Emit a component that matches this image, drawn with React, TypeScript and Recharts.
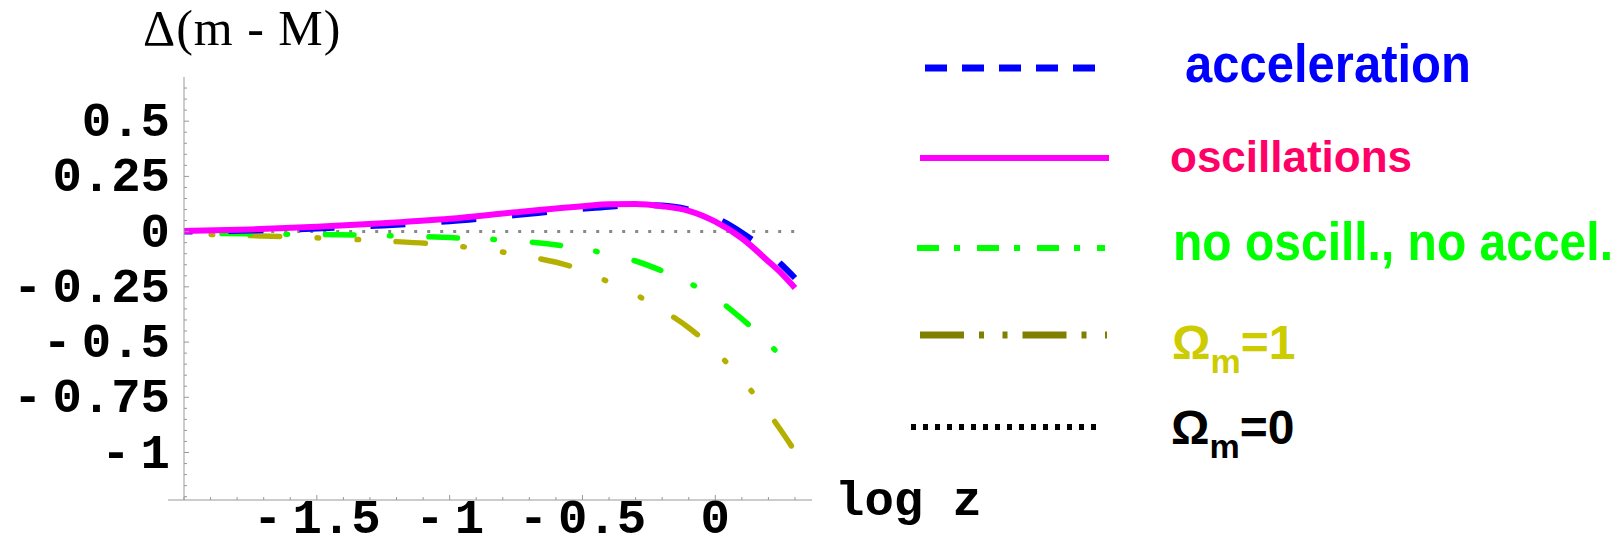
import { LineChart, Line, XAxis, YAxis } from 'recharts';

// log z sample points
const logZ = [-2, -1.75, -1.5, -1.25, -1, -0.75, -0.5, -0.4, -0.3, -0.2, -0.1, 0, 0.1, 0.2, 0.25, 0.3];

// Δ(m - M) for each model
const acceleration = [0, 0.005, 0.014, 0.028, 0.047, 0.075, 0.103, 0.113, 0.12, 0.118, 0.1, 0.063, -0.005, -0.095, -0.15, -0.21];
const oscillations = [0.003, 0.01, 0.022, 0.038, 0.058, 0.088, 0.115, 0.124, 0.125, 0.115, 0.094, 0.045, -0.03, -0.135, -0.19, -0.255];
const noOscNoAcc = [-0.008, -0.01, -0.013, -0.018, -0.027, -0.042, -0.078, -0.102, -0.133, -0.178, -0.232, -0.3, -0.395, -0.505, -0.57, null];
const omegaOne = [-0.01, -0.018, -0.028, -0.042, -0.062, -0.103, -0.175, -0.229, -0.285, -0.355, -0.435, -0.54, -0.67, -0.82, -0.905, -0.995];
const omegaZero = [0, 0, 0, 0, 0, 0, 0, 0, 0, 0, 0, 0, 0, 0, 0, 0];

// ticks
const xTickLabels = [-1.5, -1, -0.5, 0];
const xTicks = [-2, -1.9, -1.8, -1.7, -1.6, -1.5, -1.4, -1.3, -1.2, -1.1, -1, -0.9, -0.8, -0.7, -0.6, -0.5, -0.4, -0.3, -0.2, -0.1, 0, 0.1, 0.2, 0.3];
const yTickLabels = [0.5, 0.25, 0, -0.25, -0.5, -0.75, -1];
const yTicks = [0.65, 0.6, 0.55, 0.5, 0.45, 0.4, 0.35, 0.3, 0.25, 0.2, 0.15, 0.1, 0.05, 0, -0.05, -0.1, -0.15, -0.2, -0.25, -0.3, -0.35, -0.4, -0.45, -0.5, -0.55, -0.6, -0.65, -0.7, -0.75, -0.8, -0.85, -0.9, -0.95, -1, -1.05, -1.1, -1.15, -1.2];

const data = logZ.map((x, i) => ({
  x,
  acc: acceleration[i],
  osc: oscillations[i],
  none: noOscNoAcc[i],
  om1: omegaOne[i],
  om0: omegaZero[i],
}));

const legendRows = [
  { label: 'acceleration', color: '#0000ff', line: '#0000ff', dash: '22 15', w: 7, x1: 925, x2: 1100, ly: 68, tx: 1185, ty: 82, size: 49, sy: 1.1 },
  { label: 'oscillations', color: '#ff0066', line: '#ff00ff', dash: undefined, w: 6, x1: 920, x2: 1109, ly: 158, tx: 1170, ty: 172, size: 44, sy: 1 },
  { label: 'no oscill., no accel.', color: '#00ff00', line: '#00ff00', dash: '22 15 6 17', w: 6, x1: 917, x2: 1105, ly: 248, tx: 1173, ty: 260, size: 48, sy: 1.1 },
  { label: '=1', sub: true, color: '#cccc00', line: '#808000', dash: '44 15 5 18.5 5 15', w: 7, x1: 920, x2: 1107, ly: 335, tx: 1172, ty: 359, size: 48, sy: 1 },
  { label: '=0', sub: true, color: '#000000', line: '#000000', dash: '5 7', w: 6, x1: 911, x2: 1097, ly: 427, tx: 1171, ty: 444, size: 48, sy: 1 },
];

const near = (a: number, b: number) => Math.abs(a - b) < 1e-6;
const mono = { fontFamily: '"Liberation Mono", monospace', fontWeight: 700, fontSize: 49, fill: '#000' };

function TickText({ v, x, y, anchor }: { v: number; x: number; y: number; anchor: 'end' | 'middle' }) {
  const abs = String(Math.abs(v));
  return (
    <text x={x} y={y} textAnchor={anchor} style={mono}>
      {v < 0 ? (
        <>
          <tspan>-</tspan>
          <tspan dx={10}>{abs}</tspan>
        </>
      ) : (
        abs
      )}
    </text>
  );
}

function YTick(props: any) {
  const { x, y, payload } = props;
  const v = payload.value;
  const major = yTickLabels.find((t) => near(t, v));
  return (
    <g>
      <line x1={x} x2={x + (major !== undefined ? 5 : 3)} y1={y} y2={y} stroke="#999" />
      {major !== undefined && <TickText v={major} x={x - 14} y={y + 15} anchor="end" />}
    </g>
  );
}

function XTick(props: any) {
  const { x, y, payload, index } = props;
  const v = payload.value;
  const major = xTickLabels.find((t) => near(t, v));
  return (
    <g>
      {index === 0 && <line x1={x - 16} x2={x} y1={y} y2={y} stroke="#999" />}
      <line x1={x} x2={x} y1={y} y2={y - (major !== undefined ? 5 : 3)} stroke="#999" />
      {major !== undefined && <TickText v={major} x={x} y={y + 33} anchor="middle" />}
    </g>
  );
}

export default function App() {
  return (
    <div style={{ position: 'relative', margin: -8, width: 1621, height: 550, background: '#fff' }}>
      <LineChart width={1621} height={550} data={data} margin={{ top: 77, right: 809, left: 0, bottom: 0 }}>
        <XAxis
          dataKey="x"
          type="number"
          domain={[-2, 0.364]}
          ticks={xTicks}
          interval={0}
          tickSize={0}
          tickMargin={0}
          tickLine={false}
          tick={<XTick />}
          axisLine={{ stroke: '#999' }}
          height={50}
        />
        <YAxis
          type="number"
          domain={[-1.215, 0.7]}
          ticks={yTicks}
          interval={0}
          tickSize={0}
          tickMargin={0}
          tickLine={false}
          tick={<YTick />}
          axisLine={{ stroke: '#999' }}
          width={184}
        />
        <Line dataKey="om0" stroke="#888" strokeWidth={3} strokeDasharray="3 10" strokeDashoffset={3.8} dot={false} activeDot={false} isAnimationActive={false} />
        <Line type="monotone" dataKey="om1" stroke="#b5b000" strokeWidth={5.5} strokeLinecap="round" strokeDasharray="29.5 37.5 1.5 38.5 1.5 37.5" strokeDashoffset={79.8} dot={false} activeDot={false} isAnimationActive={false} />
        <Line type="monotone" dataKey="none" stroke="#00ff00" strokeWidth={5.5} strokeLinecap="round" strokeDasharray="28.5 35.5 1.5 38" strokeDashoffset={65.5} dot={false} activeDot={false} isAnimationActive={false} />
        <Line type="monotone" dataKey="acc" stroke="#0000ff" strokeWidth={6} strokeDasharray="35 36" strokeDashoffset={26.5} dot={false} activeDot={false} isAnimationActive={false} />
        <Line type="monotone" dataKey="osc" stroke="#ff00ff" strokeWidth={6} dot={false} activeDot={false} isAnimationActive={false} />
      </LineChart>
      <svg width={1621} height={550} style={{ position: 'absolute', left: 0, top: 0, pointerEvents: 'none' }}>
        <text x={143} y={45} style={{ fontFamily: '"Liberation Serif", serif', fontSize: 50, letterSpacing: 1 }}>
          Δ(m - M)
        </text>
        <text x={835} y={515} style={mono}>
          log z
        </text>
        {legendRows.map((r) => (
          <g key={r.label}>
            <line x1={r.x1} x2={r.x2} y1={r.ly} y2={r.ly} stroke={r.line} strokeWidth={r.w} strokeDasharray={r.dash} />
            <text
              x={0}
              y={0}
              transform={`translate(${r.tx} ${r.ty}) scale(1 ${r.sy})`}
              fill={r.color}
              style={{ fontFamily: '"Liberation Sans", Arial, sans-serif', fontWeight: 700, fontSize: r.size }}
            >
              {r.sub ? (
                <>
                  <tspan>Ω</tspan>
                  <tspan fontSize={34} dy={14}>m</tspan>
                  <tspan dy={-14}>{r.label}</tspan>
                </>
              ) : (
                r.label
              )}
            </text>
          </g>
        ))}
      </svg>
    </div>
  );
}
